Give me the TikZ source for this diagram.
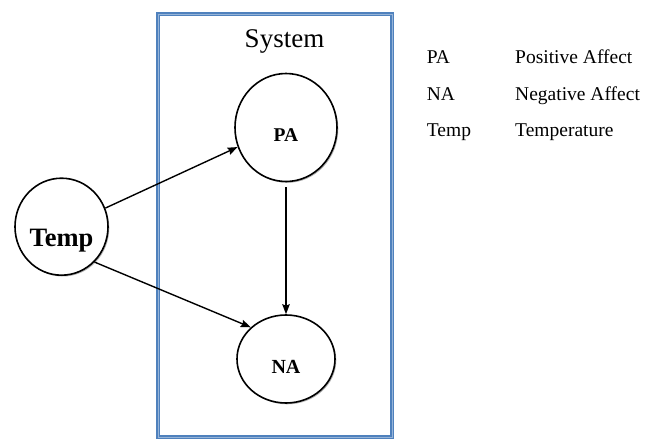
\documentclass[tikz,border=0pt]{standalone}
\usepackage{fontspec}
\setmainfont{Liberation Serif}
\usetikzlibrary{arrows.meta,shapes.geometric,shadows}
\definecolor{boxblue}{RGB}{79,129,189}
\definecolor{boxlight}{RGB}{150,180,216}
\tikzset{
  var/.style={ellipse,draw=black,line width=1.6pt,fill=white,inner sep=0pt,
    drop shadow={shadow xshift=1.3pt,shadow yshift=-1.3pt,opacity=0.3,fill=black}},
  link/.style={line width=1.4pt,-{Stealth[length=10pt,width=7.5pt,inset=1.5pt]}},
  legend/.style={font=\fontsize{19.5}{22}\selectfont,anchor=base west,inner sep=0pt}
}
\begin{document}
\begin{tikzpicture}[x=1pt,y=-1pt]
\useasboundingbox (0,0) rectangle (657,442);
% system frame
\draw[boxblue,line width=3.6pt] (158,14) rectangle (392,437);
\draw[boxlight,line width=0.9pt] (158,14) rectangle (392,437);
\node[font=\fontsize{27}{30}\selectfont,anchor=base,inner sep=0pt] (sys) at (284.5,47) {System};
% variables
\node[var,minimum width=102pt,minimum height=108pt,
  label={[font=\bfseries\fontsize{19.5}{21}\selectfont,yshift=-7.5pt]center:PA}] (PA) at (286,127.5) {};
\node[var,minimum width=98pt,minimum height=88pt,
  label={[font=\bfseries\fontsize{20}{22}\selectfont,yshift=-8pt]center:NA}] (NA) at (286,359) {};
\node[var,minimum width=93pt,minimum height=97pt,
  label={[font=\bfseries\fontsize{26.5}{29}\selectfont,yshift=-14pt]center:Temp}] (T) at (61.5,226.7) {};
% connectors
\draw[link] (T.23) -- (PA.202);
\draw[link] (T.-47) -- (NA.138);
\draw[link,shorten <=5pt] (PA.south) -- (NA.north);
% legend
\node[legend] (l1) at (426.7,63.3) {PA};
\node[legend] (d1) at (515,63.3) {Positive Affect};
\node[legend] (l2) at (426.7,100) {NA};
\node[legend] (d2) at (515,100) {Negative Affect};
\node[legend] (l3) at (426.7,136) {Temp};
\node[legend] (d3) at (515,136) {Temperature};
\end{tikzpicture}
\end{document}
